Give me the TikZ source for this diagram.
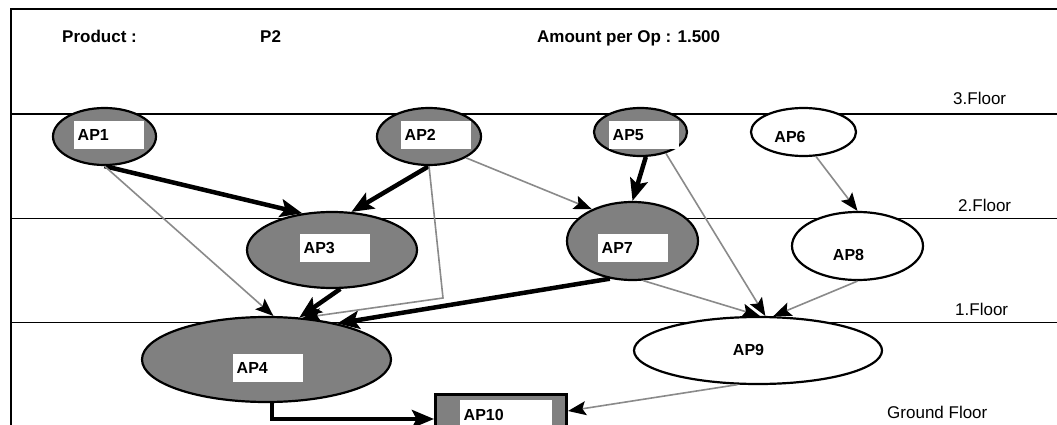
\documentclass[tikz,border=0pt]{standalone}
\usepackage{fontspec}
\setmainfont{Liberation Sans}
\usetikzlibrary{arrows.meta,shapes.geometric}
\definecolor{nodegray}{HTML}{808080}
\definecolor{linegray}{HTML}{8A8A8A}
\begin{document}
\begin{tikzpicture}[x=1pt,y=-1pt,
  ell/.style={ellipse, draw=black, line width=2.2pt, inner sep=0pt},
  gfill/.style={fill=nodegray},
  wfill/.style={fill=white},
  lab/.style={fill=white, text width=63pt, align=left, inner xsep=3.5pt, inner ysep=0pt,
    minimum height=28pt, font=\bfseries\fontsize{16}{19}\selectfont, anchor=west},
  plainlab/.style={font=\bfseries\fontsize{16}{19}\selectfont, inner sep=0pt},
  headlab/.style={font=\bfseries\fontsize{17}{20}\selectfont, inner sep=0pt, anchor=base west},
  floorlab/.style={font=\fontsize{17}{20}\selectfont, anchor=base west, inner sep=0pt},
  heavy/.style={line width=4.5pt, -{Stealth[length=22pt,width=18pt,inset=4.5pt]}},
  light/.style={draw=linegray, line width=1.6pt, -{Stealth[length=18pt,width=14pt,inset=3.5pt,color=black]}},
  frame/.style={line width=2pt},
  floorline/.style={line width=1.6pt}
]
\useasboundingbox (0,0) rectangle (1057,425);
\fill[white] (0,0) rectangle (1057,425);

% frame and floor lines
\draw[frame] (10.7,425) -- (10.7,9.3) -- (1057,9.3);
\draw[floorline] (10.7,114) -- (1057,114);
\draw[floorline] (10.7,218.3) -- (1057,218.3);
\draw[floorline] (10.7,322.5) -- (1057,322.5);

% header texts
\node[headlab] (prod) at (62,42.5) {Product :};
\node[headlab] (p2) at (260,42.5) {P2};
\node[headlab] (amt) at (537,42.5) {Amount per Op : 1.500};

% floor labels
\node[floorlab] (f3) at (953,104.3) {3.Floor};
\node[floorlab] (f2) at (958,211.7) {2.Floor};
\node[floorlab] (f1) at (955,315) {1.Floor};
\node[floorlab] (fg) at (887,418.3) {Ground Floor};

% nodes
\node[ell,gfill,minimum width=103pt,minimum height=57pt] (AP1) at (104.5,136.5) {};
\node[ell,gfill,minimum width=104pt,minimum height=57pt] (AP2) at (429,136.5) {};
\node[ell,gfill,minimum width=93pt,minimum height=48pt] (AP5) at (640.5,132) {};
\node[ell,wfill,minimum width=105pt,minimum height=48pt] (AP6) at (803.5,132) {};
\node[ell,gfill,minimum width=170pt,minimum height=76pt] (AP3) at (332,250) {};
\node[ell,gfill,minimum width=249pt,minimum height=85pt] (AP4) at (266.5,359.5) {};
\node[ell,gfill,minimum width=131pt,minimum height=78pt] (AP7) at (632.5,241) {};
\node[ell,wfill,minimum width=131pt,minimum height=68pt] (AP8) at (857.5,246) {};
\node[ell,wfill,minimum width=248pt,minimum height=67pt] (AP9) at (758,350.5) {};
\node[draw=black, fill=nodegray, line width=3pt, inner sep=0pt,
      minimum width=131pt, minimum height=33pt] (AP10) at (501,411) {};

% labels
\node[lab] (AP1t) at (74,135) {AP1};
\node[lab] (AP2t) at (401,135) {AP2};
\node[lab] (AP5t) at (609,135) {AP5};
\node[lab] (AP3t) at (300,248) {AP3};
\node[lab] (AP4t) at (233,368) {AP4};
\node[lab] (AP7t) at (598,248) {AP7};
\node[lab, text width=85pt, minimum height=30pt] (AP10t) at (460,415) {AP10};
\node[plainlab] (AP6t) at (790,137) {AP6};
\node[plainlab] (AP8t) at (848.5,254.5) {AP8};
\node[plainlab] (AP9t) at (748.5,350) {AP9};

% heavy connectors
\draw[heavy] (AP1.south) -- (AP3.129);
\draw[heavy] (AP2.south) -- (AP3.63);
\draw[heavy] (AP5.282) -- (AP7.north);
\draw[heavy] (AP3.282) -- (AP4.52);
\draw[heavy] (AP7.239) -- (AP4.27);
\draw[heavy] ([xshift=5.5pt]AP4.south) |- ([yshift=-8pt]AP10.west);

% light connectors
\coordinate (bend) at (443,298);
\draw[light] (AP1.south) -- (AP4.81);
\draw[light] (AP2.south) -- (bend) -- (AP4.49);
\draw[light] (AP2.330) -- (AP7.142);
\draw[light] (AP5.320) -- (AP9.78);
\draw[light] (AP6.297) -- (AP8.north);
\draw[light] (AP7.285) -- (AP9.87);
\draw[light] (AP8.south) -- (AP9.66);
\draw[light] (AP9.239) -- (AP10.east);
\end{tikzpicture}
\end{document}
